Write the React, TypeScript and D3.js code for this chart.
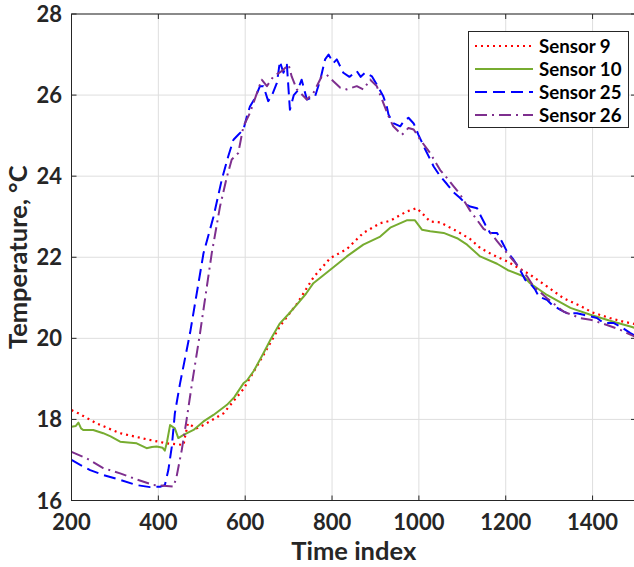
import React from "react";
import * as d3 from "d3";

const xTicks = [200, 400, 600, 800, 1000, 1200, 1400];
const yTicks = [16, 18, 20, 22, 24, 26, 28];
const seriesNames = ["Sensor 9", "Sensor 10", "Sensor 25", "Sensor 26"];

const s9T = [200, 216, 258, 312, 373, 419, 458, 462, 468, 488, 504, 550, 596, 640, 680, 719, 757, 796, 834, 872, 911, 934, 972, 995, 1007, 1026, 1049, 1088, 1118, 1141, 1172, 1203, 1256, 1295, 1333, 1372, 1399, 1440, 1471, 1500];
const s9V = [18.23, 18.15, 17.9, 17.66, 17.51, 17.41, 17.37, 17.6, 17.9, 17.78, 17.86, 18.15, 18.75, 19.55, 20.3, 20.85, 21.5, 21.98, 22.2, 22.6, 22.84, 22.9, 23.13, 23.21, 23.09, 22.88, 22.86, 22.64, 22.45, 22.23, 22.05, 21.9, 21.57, 21.28, 20.99, 20.8, 20.64, 20.5, 20.41, 20.35];

const s10T = [200, 210, 216, 222, 227, 250, 273, 290, 312, 330, 350, 373, 385, 396, 410, 415, 420, 427, 438, 446, 458, 481, 504, 527, 558, 575, 596, 604, 620, 642, 660, 680, 700, 719, 740, 757, 796, 834, 872, 911, 934, 972, 991, 1007, 1026, 1057, 1088, 1111, 1141, 1180, 1205, 1241, 1256, 1295, 1349, 1395, 1448, 1487, 1500];
const s10V = [17.82, 17.84, 17.92, 17.78, 17.74, 17.74, 17.66, 17.58, 17.45, 17.43, 17.41, 17.29, 17.32, 17.33, 17.3, 17.23, 17.45, 17.86, 17.78, 17.54, 17.62, 17.74, 17.95, 18.11, 18.36, 18.55, 18.89, 18.96, 19.2, 19.63, 20.0, 20.37, 20.6, 20.83, 21.1, 21.36, 21.69, 22.02, 22.31, 22.51, 22.73, 22.91, 22.91, 22.68, 22.64, 22.6, 22.47, 22.31, 22.02, 21.84, 21.68, 21.53, 21.36, 21.07, 20.75, 20.58, 20.41, 20.29, 20.25];

const s25T = [200, 220, 243, 273, 312, 350, 381, 404, 415, 423, 431, 438, 450, 473, 504, 527, 546, 561, 573, 584, 596, 604, 611, 623, 634, 642, 653, 662, 673, 680, 688, 696, 703, 712, 720, 730, 742, 761, 773, 784, 792, 803, 811, 826, 840, 857, 866, 876, 892, 903, 918, 926, 930, 941, 957, 965, 976, 988, 999, 1015, 1034, 1049, 1065, 1080, 1095, 1110, 1118, 1134, 1141, 1153, 1164, 1180, 1191, 1203, 1218, 1233, 1245, 1256, 1268, 1276, 1295, 1306, 1326, 1341, 1364, 1379, 1395, 1410, 1425, 1448, 1464, 1487, 1500];
const s25V = [17.0, 16.88, 16.75, 16.63, 16.51, 16.38, 16.33, 16.34, 16.38, 16.75, 17.33, 18.15, 18.89, 20.13, 22.1, 23.0, 23.91, 24.49, 24.9, 25.02, 25.15, 25.48, 25.72, 25.93, 26.22, 26.22, 25.85, 26.0, 26.3, 26.83, 26.55, 26.75, 25.64, 26.0, 26.1, 26.38, 25.89, 25.97, 26.38, 26.88, 27.0, 26.79, 26.88, 26.55, 26.45, 26.59, 26.45, 26.55, 26.46, 26.26, 25.97, 25.72, 25.52, 25.31, 25.23, 25.35, 25.44, 25.3, 25.02, 24.65, 24.24, 24.0, 23.8, 23.6, 23.46, 23.3, 23.25, 23.21, 23.05, 22.8, 22.6, 22.6, 22.39, 22.14, 21.94, 21.69, 21.44, 21.36, 21.2, 21.03, 20.95, 20.83, 20.7, 20.62, 20.62, 20.58, 20.54, 20.5, 20.38, 20.38, 20.29, 20.13, 20.05];

const s26T = [200, 235, 273, 312, 350, 389, 419, 435, 442, 454, 465, 477, 496, 523, 542, 558, 569, 584, 596, 611, 627, 638, 650, 665, 684, 700, 707, 719, 742, 757, 776, 788, 803, 819, 834, 857, 872, 888, 903, 918, 930, 941, 961, 976, 988, 1003, 1026, 1049, 1065, 1080, 1095, 1118, 1149, 1165, 1180, 1203, 1226, 1249, 1264, 1295, 1333, 1372, 1395, 1425, 1464, 1487, 1500];
const s26V = [17.2, 17.04, 16.8, 16.67, 16.52, 16.38, 16.36, 16.34, 16.59, 17.25, 17.99, 18.85, 20.13, 22.1, 23.25, 23.99, 24.41, 24.57, 25.23, 25.56, 26.05, 26.38, 26.22, 26.46, 26.59, 26.75, 26.46, 26.14, 25.89, 26.05, 26.46, 26.5, 26.34, 26.18, 26.14, 26.22, 26.14, 26.38, 26.22, 25.81, 25.48, 25.23, 25.02, 25.19, 25.15, 24.9, 24.57, 24.15, 23.95, 23.75, 23.55, 23.15, 22.7, 22.6, 22.4, 22.1, 21.81, 21.53, 21.28, 20.99, 20.66, 20.5, 20.46, 20.36, 20.21, 20.09, 20.03];

const FONT = "Lato, 'Open Sans', sans-serif";
const AX = "#262626";

export default function App() {
  const W = 634, H = 567;
  const L = 71.5, R = 636, T = 14, B = 500.5;
  const x = d3.scaleLinear().domain([200, 1500]).range([L, R]);
  const y = d3.scaleLinear().domain([16, 28]).range([B, T]);
  const line = d3.line<[number, number]>().x(d => x(d[0])).y(d => y(d[1]));
  const zip = (a: number[], b: number[]) => a.map((t, i) => [t, b[i]] as [number, number]);

  const series = [
    { name: seriesNames[0], d: zip(s9T, s9V), color: "#FF0000", dash: "2 4", w: 2.2 },
    { name: seriesNames[1], d: zip(s10T, s10V), color: "#77AC30", dash: "", w: 2 },
    { name: seriesNames[2], d: zip(s25T, s25V), color: "#0000FF", dash: "12 6", w: 2 },
    { name: seriesNames[3], d: zip(s26T, s26V), color: "#7E2F8E", dash: "12 5 2 5", w: 2 },
  ];

  return (
    <svg width={W} height={H} style={{ position: "absolute", left: 0, top: 0, background: "#fff" }}>
      <defs>
        <clipPath id="plot">
          <rect x={L} y={T} width={R - L} height={B - T} />
        </clipPath>
      </defs>
      {xTicks.map(t => (
        <line key={"gx" + t} x1={x(t)} x2={x(t)} y1={T} y2={B} stroke="#dedede" strokeWidth={1} />
      ))}
      {yTicks.map(t => (
        <line key={"gy" + t} x1={L} x2={R} y1={y(t)} y2={y(t)} stroke="#dedede" strokeWidth={1} />
      ))}
      <g clipPath="url(#plot)">
        {series.map(s => (
          <path key={s.name} d={line(s.d) || ""} fill="none" stroke={s.color} strokeWidth={s.w}
            strokeDasharray={s.dash || undefined} strokeLinejoin="round" />
        ))}
      </g>
      <rect x={L} y={T} width={R - L} height={B - T} fill="none" stroke={AX} strokeWidth={1} />
      {xTicks.map(t => (
        <g key={"tx" + t}>
          <line x1={x(t)} x2={x(t)} y1={B} y2={B - 5} stroke={AX} />
          <line x1={x(t)} x2={x(t)} y1={T} y2={T + 5} stroke={AX} />
          <text x={x(t)} y={530} textAnchor="middle" fontFamily={FONT} fontWeight="bold" fontSize={22} fill={AX}>{t}</text>
        </g>
      ))}
      {yTicks.map(t => (
        <g key={"ty" + t}>
          <line x1={L} x2={L + 5} y1={y(t)} y2={y(t)} stroke={AX} />
          <line x1={R} x2={R - 5} y1={y(t)} y2={y(t)} stroke={AX} />
          <text x={62} y={y(t) + 8} textAnchor="end" fontFamily={FONT} fontWeight="bold" fontSize={22} fill={AX}>{t}</text>
        </g>
      ))}
      <text x={(L + R) / 2} y={560} textAnchor="middle" fontFamily={FONT} fontWeight="bold" fontSize={25.5} fill={AX}>Time index</text>
      <text transform={`translate(27,${(T + B) / 2}) rotate(-90)`} textAnchor="middle" fontFamily={FONT} fontWeight="bold" fontSize={25.5} fill={AX}>Temperature, °C</text>
      <g>
        <rect x={468.5} y={31.5} width={160} height={96} fill="#fff" stroke={AX} strokeWidth={1} />
        {series.map((s, i) => {
          const ry = 46 + i * 23;
          return (
            <g key={"lg" + s.name}>
              <line x1={475} x2={533} y1={ry} y2={ry} stroke={s.color} strokeWidth={s.w} strokeDasharray={s.dash || undefined} />
              <text x={539} y={ry + 6.5} fontFamily={FONT} fontWeight="bold" fontSize={18.7} fill="#000">{s.name}</text>
            </g>
          );
        })}
      </g>
    </svg>
  );
}
